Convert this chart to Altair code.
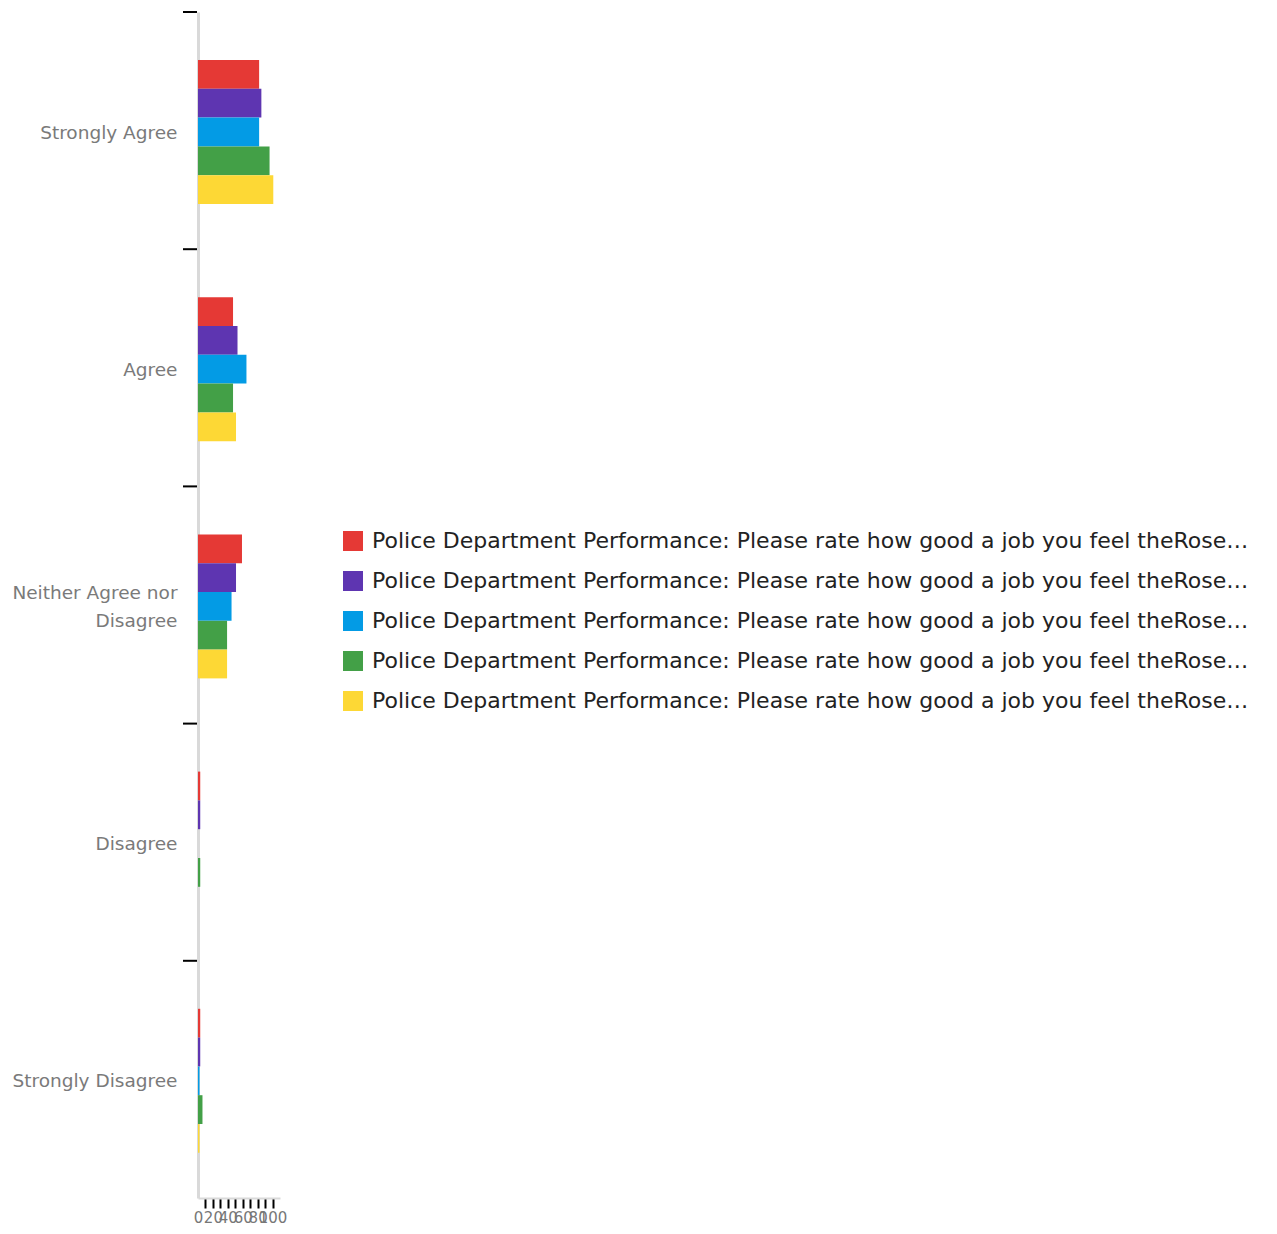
import altair as alt
import pandas as pd

# Response categories (top to bottom)
categories = [
    "Strongly Agree",
    "Agree",
    "Neither Agree nor Disagree",
    "Disagree",
    "Strongly Disagree",
]

# Survey items (one colour each)
series = [
    "Police Department Performance: Please rate how good a job you feel theRoseville Police Department is doing - Responding to calls for service",
    "Police Department Performance: Please rate how good a job you feel theRoseville Police Department is doing - Preventing crime",
    "Police Department Performance: Please rate how good a job you feel theRoseville Police Department is doing - Traffic enforcement",
    "Police Department Performance: Please rate how good a job you feel theRoseville Police Department is doing - Community relations",
    "Police Department Performance: Please rate how good a job you feel theRoseville Police Department is doing - Overall performance",
]
colors = ["#e53935", "#5e35b1", "#039be5", "#43a047", "#fdd835"]

# Response counts per item, in category order
counts_red = [82, 47, 59, 3, 3]
counts_purple = [85, 53, 51, 3, 3]
counts_blue = [82, 65, 45, 0, 2]
counts_green = [96, 47, 39, 3, 6]
counts_yellow = [101, 51, 39, 0, 2]

all_counts = [counts_red, counts_purple, counts_blue, counts_green, counts_yellow]

rows = []
for name, vals in zip(series, all_counts):
    for cat, v in zip(categories, vals):
        rows.append({"category": cat, "series": name, "count": v})
df = pd.DataFrame(rows)
cats_df = pd.DataFrame({"category": categories})

FONT = "DejaVu Sans"

# Each category gets a full slot; the bar group sits in its middle
y_scale = alt.Scale(domain=categories, paddingInner=0, paddingOuter=0)
offset_scale = alt.Scale(domain=series, range=[48, 192], paddingInner=0, paddingOuter=0)

bars = alt.Chart(df).mark_bar().encode(
    x=alt.X(
        "count:Q",
        scale=alt.Scale(domain=[0, 110], nice=False),
        axis=alt.Axis(
            title=None,
            values=list(range(0, 101, 10)),
            labelExpr="datum.value % 20 == 0 ? datum.label : ''",
            labelOverlap=False,
            labelFlush=False,
            grid=False,
            tickSize=10,
            tickWidth=2,
            tickColor="#000000",
            tickOpacity={"condition": {"test": "datum.value == 0", "value": 0}, "value": 1},
            domainColor="#d9d9d9",
            domainWidth=2,
            labelFontSize=15,
            labelFont=FONT,
            labelColor="#777777",
            labelPadding=2,
        ),
    ),
    y=alt.Y(
        "category:N",
        sort=categories,
        scale=y_scale,
        axis=alt.Axis(
            title=None,
            ticks=False,
            domainColor="#d9d9d9",
            domainWidth=3,
            labelPadding=21,
            labelFontSize=18.5,
            labelFont=FONT,
            labelColor="#7a7a7a",
            labelLimit=300,
            labelLineHeight=28,
            labelOffset={
                "condition": {"test": "datum.value == 'Neither Agree nor Disagree'", "value": -12},
                "value": 2,
            },
            labelExpr="datum.label == 'Neither Agree nor Disagree' ? ['Neither Agree nor', 'Disagree'] : datum.label",
        ),
    ),
    yOffset=alt.YOffset("series:N", sort=series, scale=offset_scale),
    color=alt.Color(
        "series:N",
        sort=series,
        scale=alt.Scale(domain=series, range=colors),
        legend=alt.Legend(
            title=None,
            orient="none",
            legendX=144,
            legendY=518,
            symbolType="square",
            symbolSize=400,
            symbolStrokeWidth=0,
            symbolOpacity=1,
            labelFontSize=22,
            labelFont=FONT,
            labelColor="#222222",
            labelLimit=884,
            labelOffset=8,
            rowPadding=18,
            padding=0,
        ),
    ),
)

# Category boundary ticks on the left axis
ticks = alt.Chart(cats_df).mark_rule(color="#000000", strokeWidth=2).encode(
    y=alt.Y("category:N", sort=categories, scale=y_scale, bandPosition=0),
    x=alt.value(-15),
    x2=alt.value(-1),
)

chart = (
    alt.layer(bars, ticks)
    .properties(
        width=82,
        height=1186,
        autosize="none",
        padding={"left": 198, "top": 12, "right": 997, "bottom": 36},
    )
    .configure_view(stroke=None)
)

chart.save("out.html", embed_options={"renderer": "svg", "actions": False})
